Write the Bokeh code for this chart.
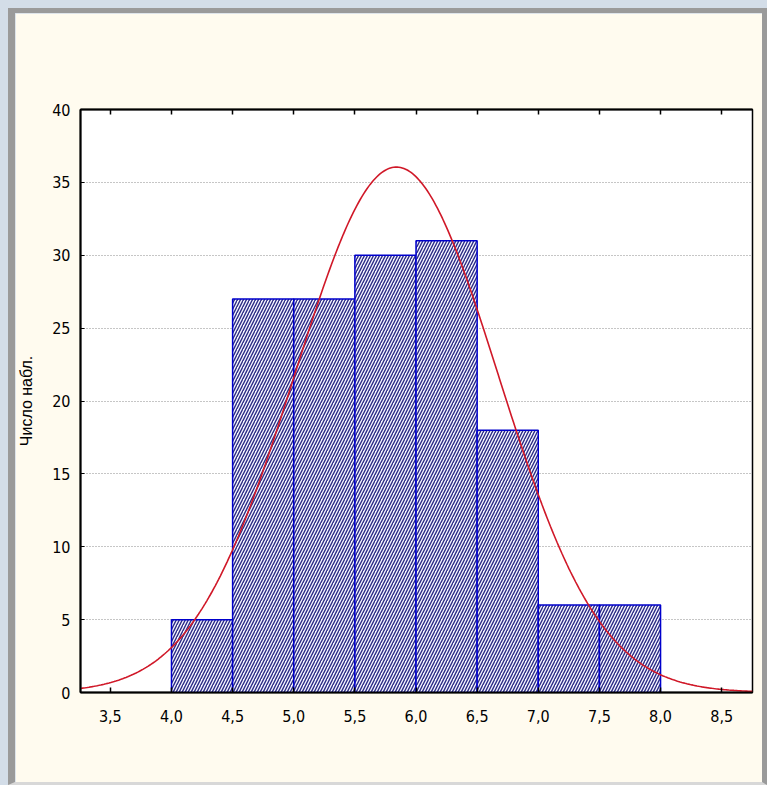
import numpy as np
from bokeh.plotting import figure
from bokeh.layouts import column
from bokeh.models import FixedTicker, LinearAxis, ColumnDataSource
from bokeh.embed import file_html
from bokeh.resources import INLINE

# Histogram: class limits and observed counts
bin_left = [4.0, 4.5, 5.0, 5.5, 6.0, 6.5, 7.0, 7.5]
bin_right = [4.5, 5.0, 5.5, 6.0, 6.5, 7.0, 7.5, 8.0]
counts = [5, 27, 27, 30, 31, 18, 6, 6]

# Fitted normal curve parameters
fit_mean = 5.84
fit_sd = 0.83
bin_width = 0.5

# Axis ticks
x_ticks = [3.5, 4.0, 4.5, 5.0, 5.5, 6.0, 6.5, 7.0, 7.5, 8.0, 8.5]
x_tick_labels = ["3,5", "4,0", "4,5", "5,0", "5,5", "6,0", "6,5", "7,0", "7,5", "8,0", "8,5"]
y_ticks = [0, 5, 10, 15, 20, 25, 30, 35, 40]
y_label = "Число набл."

TICK_FONT = "'Liberation Sans Narrow', 'DejaVu Sans Condensed', 'Liberation Sans', sans-serif"
CREAM = "#fffbef"

p = figure(
    width=747, height=769,
    x_range=(3.256, 8.752), y_range=(0, 40),
    output_backend="svg", toolbar_location=None,
    x_axis_location=None, y_axis_location=None,
    min_border_left=63, min_border_right=10,
    min_border_top=96, min_border_bottom=90,
    background_fill_color="white", border_fill_color=CREAM,
    outline_line_color="black", outline_line_width=1.5,
)

# Axes
xaxis = LinearAxis(ticker=FixedTicker(ticks=x_ticks),
                   major_label_overrides={t: s for t, s in zip(x_ticks, x_tick_labels)})
xaxis.major_label_text_font = TICK_FONT
xaxis.major_label_text_font_size = "16px"
xaxis.major_label_text_color = "black"
xaxis.major_label_standoff = 17
xaxis.major_tick_in = 5
xaxis.major_tick_out = 0
xaxis.minor_tick_line_color = None
xaxis.axis_line_width = 2
xaxis.major_tick_line_width = 1.5
p.add_layout(xaxis, "below")

top_axis = LinearAxis(ticker=FixedTicker(ticks=x_ticks), major_label_text_alpha=0)
top_axis.major_tick_in = 5
top_axis.major_tick_out = 0
top_axis.minor_tick_line_color = None
top_axis.axis_line_width = 2
top_axis.major_tick_line_width = 1.5
top_axis.major_label_text_font_size = "1px"
p.add_layout(top_axis, "above")

yaxis = LinearAxis(ticker=FixedTicker(ticks=y_ticks), axis_label=y_label)
yaxis.major_label_text_font = TICK_FONT
yaxis.major_label_text_font_size = "16px"
yaxis.major_label_text_color = "black"
yaxis.major_label_standoff = 10
yaxis.major_tick_in = 4
yaxis.major_tick_out = 0
yaxis.minor_tick_line_color = None
yaxis.axis_line_width = 2
yaxis.axis_label_text_font = "'Liberation Sans', Arial, sans-serif"
yaxis.axis_label_text_font_size = "16px"
yaxis.axis_label_text_font_style = "normal"
yaxis.axis_label_text_color = "black"
yaxis.axis_label_standoff = 14
p.add_layout(yaxis, "left")

p.xgrid.grid_line_color = None
p.ygrid.ticker = FixedTicker(ticks=[5, 10, 15, 20, 25, 30, 35])
p.ygrid.grid_line_color = "#8c8c8c"
p.ygrid.grid_line_dash = "1 2"
p.ygrid.grid_line_width = 1

# Bars
bars = ColumnDataSource(dict(left=bin_left, right=bin_right, top=counts,
                             bottom=[0] * len(counts)))
p.quad(left="left", right="right", top="top", bottom="bottom", source=bars,
       fill_color="#f6f6ff", line_color="#0000cc", line_width=1.5,
       hatch_pattern="/", hatch_color="#2a2a85", hatch_scale=6, hatch_weight=1.4)

# Expected frequencies under the fitted normal
n_total = sum(counts)
xs = np.linspace(3.256, 8.752, 400)
ys = n_total * bin_width * np.exp(-0.5 * ((xs - fit_mean) / fit_sd) ** 2) / (fit_sd * np.sqrt(2 * np.pi))
p.line(xs, ys, line_color="#d01828", line_width=1.6)

# Window frame around the chart panel
panel = column(p, styles={
    "border-left": "7px solid #9a9a9a",
    "border-top": "5px solid #9a9a9a",
    "border-right": "5px solid #9a9a9a",
    "border-bottom": "3px solid #d8d8d8",
})
page = column(panel, styles={
    "background-color": "#d3dde8",
    "padding-left": "8px",
    "padding-top": "8px",
})

open("out.html", "w").write(file_html(page, INLINE))
